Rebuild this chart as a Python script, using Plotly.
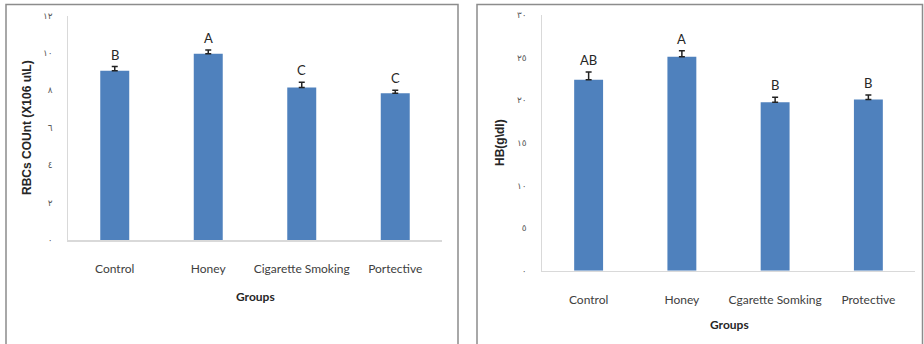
import plotly.graph_objects as go

# ---- data ----
groups_rbc = ["Control", "Honey", "Cigarette Smoking", "Portective"]
rbc_values = [9.05, 9.95, 8.15, 7.85]
rbc_errors = [0.22, 0.2, 0.28, 0.15]
rbc_letters = ["B", "A", "C", "C"]
rbc_tickvals = [0, 2, 4, 6, 8, 10, 12]
rbc_ticktext = ["٠", "٢", "٤", "٦", "٨", "١٠", "١٢"]

groups_hb = ["Control", "Honey", "Cgarette Somking", "Protective"]
hb_values = [22.4, 25.1, 19.75, 20.1]
hb_errors = [0.9, 0.7, 0.6, 0.5]
hb_letters = ["AB", "A", "B", "B"]
hb_tickvals = [0, 5, 10, 15, 20, 25, 30]
hb_ticktext = ["٠", "٥", "١٠", "١٥", "٢٠", "٢٥", "٣٠"]

W, H = 924, 344
BAR = "#4f81bd"
AX = "#d9d9d9"
FONT = "Lato, Liberation Sans, sans-serif"
BOLD = "Liberation Sans, sans-serif"

def px(x):
    return x / W

def py(y):
    return 1 - y / H

fig = go.Figure()

fig.add_trace(go.Bar(
    x=groups_rbc, y=rbc_values, marker=dict(color=BAR, line=dict(width=0)),
    width=0.31,
    error_y=dict(type="data", array=rbc_errors, arrayminus=[0]*4, symmetric=False,
                 color="#222222", thickness=1.5, width=3),
    xaxis="x", yaxis="y", showlegend=False, hoverinfo="skip",
))
fig.add_trace(go.Bar(
    x=groups_hb, y=hb_values, marker=dict(color=BAR, line=dict(width=0)),
    width=0.31,
    error_y=dict(type="data", array=hb_errors, arrayminus=[0]*4, symmetric=False,
                 color="#222222", thickness=1.5, width=3),
    xaxis="x2", yaxis="y2", showlegend=False, hoverinfo="skip",
))

annotations = []
for g, v, e, l in zip(groups_rbc, rbc_values, rbc_errors, rbc_letters):
    annotations.append(dict(x=g, y=v + e, xref="x", yref="y", text=l, showarrow=False,
                            xanchor="center", yanchor="bottom", yshift=2,
                            font=dict(family=FONT, size=13, color="#262626")))
for g, v, e, l in zip(groups_hb, hb_values, hb_errors, hb_letters):
    annotations.append(dict(x=g, y=v + e, xref="x2", yref="y2", text=l, showarrow=False,
                            xanchor="center", yanchor="bottom", yshift=2,
                            font=dict(family=FONT, size=13, color="#262626")))

# axis titles
annotations += [
    dict(x=px(255), y=py(296), xref="paper", yref="paper", text="<b>Groups</b>",
         xanchor="center", yanchor="middle",
         showarrow=False, font=dict(family=FONT, size=12, color="#262626")),
    dict(x=px(729), y=py(324), xref="paper", yref="paper", text="<b>Groups</b>",
         xanchor="center", yanchor="middle",
         showarrow=False, font=dict(family=FONT, size=12, color="#262626")),
    dict(x=px(27), y=py(128), xref="paper", yref="paper", text="<b>RBCs COUnt (X106 u\\L)</b>",
         xanchor="center", yanchor="middle", textangle=-90, showarrow=False,
         font=dict(family=BOLD, size=12, color="#262626")),
    dict(x=px(500), y=py(143), xref="paper", yref="paper", text="<b>HB(g\\dl)</b>",
         xanchor="center", yanchor="middle", textangle=-90, showarrow=False,
         font=dict(family=BOLD, size=12, color="#262626")),
]

shapes = [
    dict(type="rect", xref="paper", yref="paper", x0=px(6), x1=px(458), y0=-0.05, y1=py(4.5),
         line=dict(color="#8c8c8c", width=1.5), layer="below"),
    dict(type="rect", xref="paper", yref="paper", x0=px(477), x1=px(922.5), y0=-0.05, y1=py(4.5),
         line=dict(color="#8c8c8c", width=1.5), layer="below"),
]

xcommon = dict(showgrid=False, zeroline=False, showline=True, linecolor=AX, linewidth=1.5,
               ticks="", tickfont=dict(family=FONT, size=12, color="#404040"),
               ticklabelstandoff=17, fixedrange=True, automargin=False)
ycommon = dict(showgrid=False, zeroline=False, showline=True, linecolor=AX, linewidth=1.5,
               ticks="", tickfont=dict(family="DejaVu Sans, sans-serif", size=9, color="#595959"),
               ticklabelstandoff=12, fixedrange=True, automargin=False)

fig.update_layout(
    width=W, height=H,
    margin=dict(l=0, r=0, t=0, b=0),
    paper_bgcolor="white", plot_bgcolor="white",
    bargap=0.69,
    hovermode=False,
    xaxis=dict(domain=[px(68), px(442)], anchor="y", **xcommon),
    yaxis=dict(domain=[py(240), py(15.5)], anchor="x", range=[0, 12],
               tickvals=rbc_tickvals, ticktext=rbc_ticktext, **ycommon),
    xaxis2=dict(domain=[px(542), px(915)], anchor="y2", **xcommon),
    yaxis2=dict(domain=[py(270.7), py(15)], anchor="x2", range=[0, 30],
                tickvals=hb_tickvals, ticktext=hb_ticktext, **ycommon),
    annotations=annotations,
    shapes=shapes,
)

fig.write_html("out.html", config={"displayModeBar": False, "staticPlot": True},
               post_script="document.body.style.margin='0';document.body.style.overflow='hidden';")
